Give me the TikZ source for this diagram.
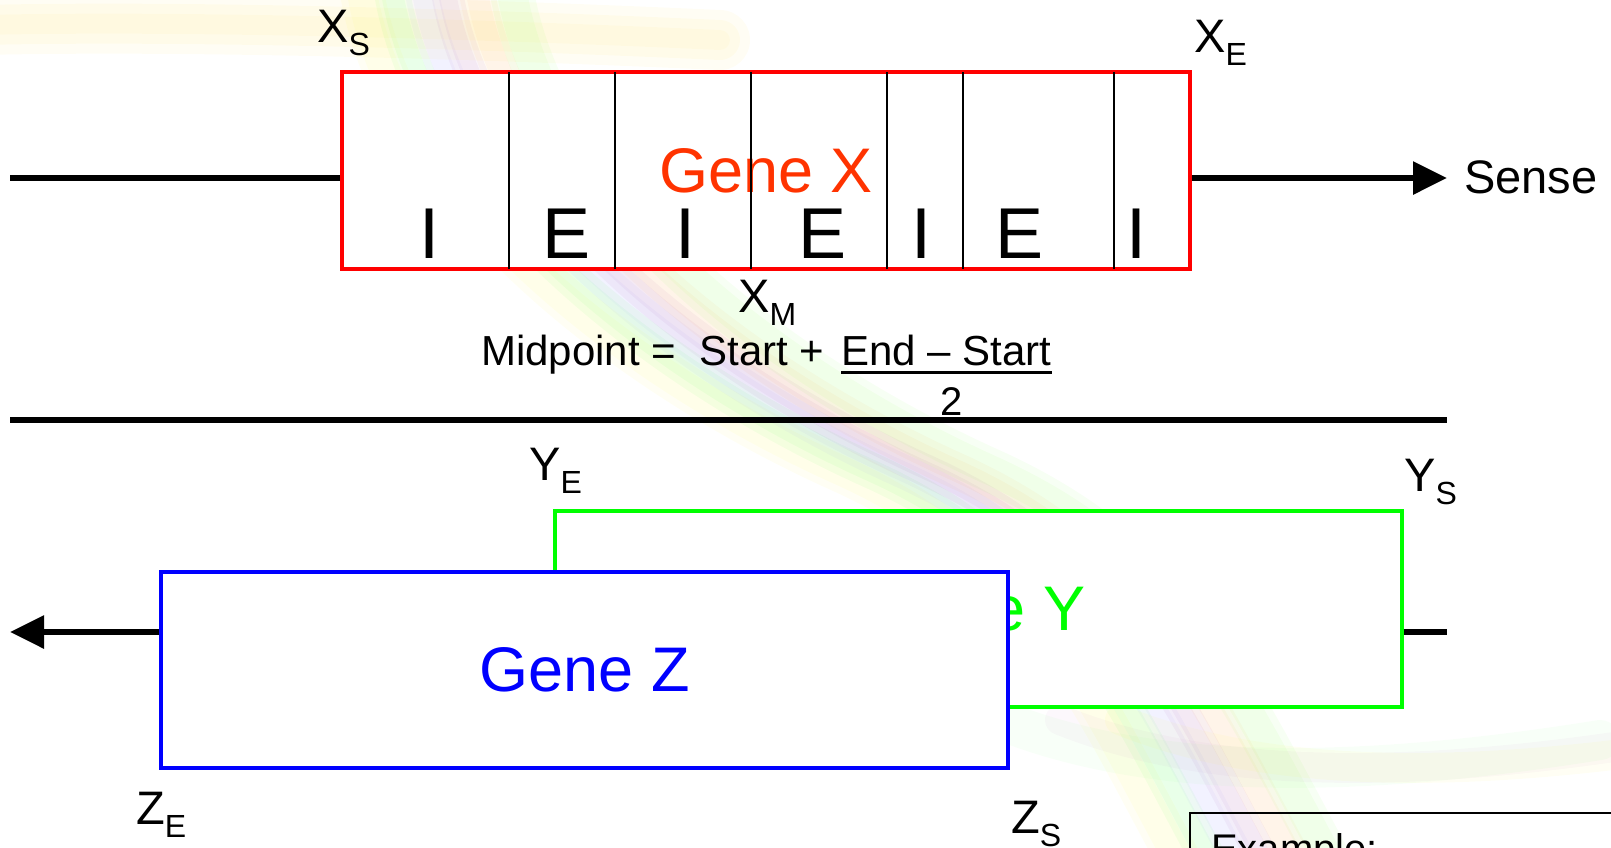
\documentclass[tikz,border=0pt]{standalone}
\usepackage{fontspec}
\setmainfont{Liberation Sans}
\usetikzlibrary{arrows.meta}
\newcommand\fsz[1]{\fontsize{#1}{#1}\selectfont}
\newcommand\sublbl[2]{#1\raisebox{-13pt}{\fsz{32}#2}}
\definecolor{genexred}{HTML}{FF3300}
\definecolor{boxred}{HTML}{FF0000}
\definecolor{boxgreen}{HTML}{00FF00}
\definecolor{boxblue}{HTML}{0000FF}
\tikzset{
  dnaline/.style={line width=6pt},
  tipped/.style={-{Triangle[length=34pt,width=32pt]}},
  genebox/.style={draw=#1, line width=3.5pt, fill=white, inner sep=0pt},
  divider/.style={line width=1.4pt},
  exonlbl/.style={font=\fsz{72}, anchor=base, inner sep=0pt},
  poslbl/.style={font=\fsz{47}, anchor=base west, inner sep=0pt},
  formula/.style={font=\fsz{42}, anchor=base west, inner sep=0pt},
  strand/.style={line width=#1, line cap=round, opacity=0.045},
}
\begin{document}
\begin{tikzpicture}[x=1pt,y=-1pt]
\useasboundingbox (0,0) rectangle (1611,847);
\clip (0,0) rectangle (1611,847);

% faint double helix in the background
\foreach \w in {60,40,20}{
  \draw[strand=\w pt, yellow!70!orange] (-20,25) .. controls (200,20) and (500,30) .. (720,40);
}
\foreach \dx/\col/\w in {-60/yellow/30, -30/green/22, 0/blue!60/20, 25/violet/18, 55/orange/22, 90/green!70!yellow/30}{
  \draw[strand=\w pt, \col] (420+\dx,-20) .. controls (450+\dx,200) and (700+\dx,380) .. (900+\dx,470)
        .. controls (1100+\dx,560) and (1150+\dx,700) .. (1250+\dx,880);
  \draw[strand=\w pt+14pt, \col] (420+\dx,-20) .. controls (450+\dx,200) and (700+\dx,380) .. (900+\dx,470)
        .. controls (1100+\dx,560) and (1150+\dx,700) .. (1250+\dx,880);
}
\foreach \dx/\col/\w in {0/green!60/40, 60/violet!60/30, 120/yellow/30}{
  \draw[strand=\w pt, \col] (1000+\dx,720) .. controls (1150+\dx,780) and (1350+\dx,780) .. (1600+\dx,740);
}

% sense strand with gene X
\coordinate (sstart) at (10,178);
\coordinate (stip) at (1447,178);
\node[genebox=boxred, minimum width=848pt, minimum height=197pt,
      font=\fsz{63}, text=genexred] (xbox) at (766,170.5) {Gene X};
\foreach \x [count=\i] in {509,615,751,887,963,1114}
  \draw[divider] (\x,72) -- (\x,269);
\foreach \x/\t [count=\i] in {429/I,567/E,685/I,823/E,921/I,1019/E,1136/I}
  \node[exonlbl] (ie\i) at (\x,258) {\t};
\draw[dnaline] (sstart) -- (sstart -| xbox.west);
\draw[dnaline, tipped] (stip -| xbox.east) -- (stip);
\node[font=\fsz{47}, anchor=base west, inner sep=0pt] (sense) at (1464,193) {Sense};

\node[poslbl] (xs) at (317,42) {\sublbl{X}{S}};
\node[poslbl] (xe) at (1194,52) {\sublbl{X}{E}};
\node[poslbl] (xm) at (738,312) {\sublbl{X}{M}};

% midpoint formula
\node[formula] (midleft) at (481,365) {Midpoint =\ \ Start +};
\node[formula] (midnum) at (841,365) {End \textendash\ Start};
\draw[line width=3pt] ([yshift=-7pt]midnum.base west) -- ([yshift=-7pt]midnum.base east);
\node[font=\fsz{40}, anchor=base, inner sep=0pt] (middenom) at (952,415) {2};

% separator between the strands
\coordinate (sepl) at (10,420);
\coordinate (sepr) at (1447,420);
\draw[line width=5.5pt] (sepl) -- (sepr);

% antisense strand with genes Y and Z
\coordinate (atip) at (10,632);
\coordinate (aend) at (1447,632);
\node[genebox=boxgreen, minimum width=847pt, minimum height=196pt,
      font=\fsz{63}, text=boxgreen] (ybox) at (978.5,609) {Gene Y};
\node[genebox=boxblue, minimum width=847pt, minimum height=196pt,
      font=\fsz{63}, text=boxblue] (zbox) at (584.5,670) {Gene Z};
\draw[dnaline] (aend -| ybox.east) -- (aend);
\draw[dnaline, tipped] (atip -| zbox.west) -- (atip);

\node[poslbl] (ye) at (529,480) {\sublbl{Y}{E}};
\node[poslbl] (ys) at (1404,491) {\sublbl{Y}{S}};
\node[poslbl] (ze) at (136,824) {\sublbl{Z}{E}};
\node[poslbl] (zs) at (1011,833) {\sublbl{Z}{S}};

% example panel, running off the lower right corner
\coordinate (exbl) at (1190,880);
\coordinate (extl) at (1190,813);
\coordinate (extr) at (1650,813);
\draw[line width=1.5pt] (exbl) -- (extl) -- (extr);
\node[font=\fsz{40}, anchor=base west, inner sep=0pt] (example) at (1211,862) {Example:};
\end{tikzpicture}
\end{document}
